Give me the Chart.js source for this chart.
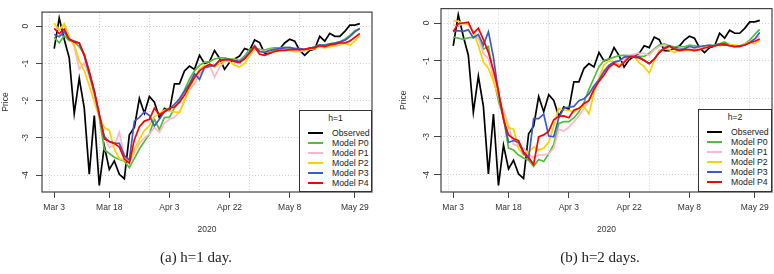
<!DOCTYPE html>
<html><head><meta charset="utf-8">
<script src="https://cdn.jsdelivr.net/npm/chart.js@4.4.1/dist/chart.umd.min.js"></script>
<style>
html,body{margin:0;padding:0;background:#fff;}
body{width:774px;height:274px;overflow:hidden;position:relative;font-family:"Liberation Sans",Arial,sans-serif;}
.panel{position:absolute;top:0;}
.cap{position:absolute;font-family:"Liberation Serif","Times New Roman",serif;font-size:15px;color:#222;white-space:nowrap;transform:translate(-50%,-50%);}
.legend{position:absolute;background:#fff;border:1px solid #333;box-sizing:border-box;font-size:8.7px;color:#222;}
.legend .t{position:absolute;left:0;right:0;text-align:center;transform:translateY(-50%);}
.legend .ln{position:absolute;height:2px;transform:translateY(-50%);}
.legend .tx{position:absolute;transform:translateY(-50%);white-space:nowrap;}
</style>
</head><body>
<div class="panel" style="left:0;width:380px;height:274px"><canvas id="c1" width="380" height="274"></canvas></div>
<div class="panel" style="left:387px;width:387px;height:274px"><canvas id="c2" width="387" height="274"></canvas></div>
<div class="legend" id="lg1" style="left:299px;top:110px;width:73px;height:82px"></div>
<div class="legend" id="lg2" style="left:698px;top:109px;width:74px;height:83px"></div>
<div class="cap" id="cap1" style="left:196px;top:257px"></div>
<div class="cap" id="cap2" style="left:600px;top:257px"></div>
<script>
// ---- data ----
const dates = ["2020-03-03","2020-03-04","2020-03-05","2020-03-06","2020-03-09","2020-03-10","2020-03-11","2020-03-12","2020-03-13","2020-03-16","2020-03-17","2020-03-18","2020-03-19","2020-03-20","2020-03-23","2020-03-24","2020-03-25","2020-03-26","2020-03-27","2020-03-30","2020-03-31","2020-04-01","2020-04-02","2020-04-03","2020-04-06","2020-04-07","2020-04-08","2020-04-09","2020-04-13","2020-04-14","2020-04-15","2020-04-16","2020-04-17","2020-04-20","2020-04-21","2020-04-22","2020-04-23","2020-04-24","2020-04-27","2020-04-28","2020-04-29","2020-04-30","2020-05-01","2020-05-04","2020-05-05","2020-05-06","2020-05-07","2020-05-08","2020-05-11","2020-05-12","2020-05-13","2020-05-14","2020-05-15","2020-05-18","2020-05-19","2020-05-20","2020-05-21","2020-05-22","2020-05-27","2020-05-28","2020-05-29","2020-06-01"];
const tickDates = ["2020-03-03","2020-03-18","2020-04-03","2020-04-22","2020-05-08","2020-05-29"];
const tickLabels = ["Mar 3","Mar 18","Apr 3","Apr 22","May 8","May 29"];
const yTicks = [-4,-3,-2,-1,0];
const seriesNames = ["Observed","Model P0","Model P1","Model P2","Model P3","Model P4"];
const seriesColors = ["#000000","#4fbf3a","#ffb6c8","#ffd000","#3a5bc8","#ff0000"];

const observed = [-0.60,0.22,-0.35,-0.85,-2.35,-1.40,-2.20,-3.98,-2.40,-4.28,-3.22,-3.85,-3.62,-3.98,-4.10,-2.92,-2.72,-1.94,-2.34,-1.89,-2.04,-2.46,-2.21,-2.28,-1.55,-1.55,-1.20,-1.07,-1.16,-0.78,-1.00,-0.95,-0.65,-0.86,-1.16,-0.97,-0.88,-0.80,-0.60,-0.65,-0.37,-0.44,-0.73,-0.73,-0.65,-0.61,-0.45,-0.35,-0.40,-0.65,-0.78,-0.65,-0.61,-0.27,-0.40,-0.19,-0.27,-0.27,-0.14,0.03,0.03,0.07];

// h = 1
const h1P0 = [-0.30,-0.45,-0.25,-0.38,-0.42,-0.55,-0.75,-1.20,-1.75,-2.45,-3.32,-3.42,-3.52,-3.58,-3.62,-3.80,-3.55,-3.30,-3.10,-2.90,-2.50,-2.78,-2.45,-2.45,-2.20,-2.00,-1.72,-1.42,-1.20,-1.05,-0.97,-0.95,-0.88,-0.85,-0.85,-0.88,-0.88,-0.92,-0.80,-0.62,-0.60,-0.62,-0.64,-0.60,-0.58,-0.58,-0.57,-0.58,-0.60,-0.60,-0.62,-0.60,-0.55,-0.52,-0.50,-0.48,-0.45,-0.42,-0.35,-0.25,-0.12,-0.06];
const h1P1 = [-0.06,-0.10,0.05,-0.30,-0.55,-1.15,-0.98,-1.35,-1.85,-2.40,-2.95,-3.25,-3.20,-2.85,-3.50,-3.65,-3.40,-3.15,-3.00,-2.90,-2.72,-2.85,-2.60,-2.50,-2.45,-2.30,-2.00,-1.70,-1.55,-1.30,-1.15,-1.05,-1.37,-1.10,-0.95,-0.90,-0.90,-0.95,-0.85,-0.70,-0.62,-0.65,-0.68,-0.63,-0.62,-0.63,-0.62,-0.62,-0.63,-0.63,-0.62,-0.60,-0.55,-0.55,-0.55,-0.50,-0.48,-0.45,-0.45,-0.40,-0.30,-0.22];
const h1P2 = [0.08,-0.10,0.07,-0.30,-0.50,-0.93,-1.19,-1.60,-2.03,-2.45,-2.72,-2.80,-3.30,-3.56,-3.60,-3.65,-3.30,-3.05,-2.80,-2.68,-2.42,-2.35,-2.25,-2.28,-2.30,-2.32,-2.00,-1.66,-1.41,-1.15,-1.05,-1.05,-1.10,-1.00,-0.92,-0.95,-1.05,-1.10,-1.00,-0.80,-0.60,-0.68,-0.70,-0.68,-0.68,-0.66,-0.65,-0.65,-0.68,-0.68,-0.66,-0.62,-0.60,-0.55,-0.58,-0.55,-0.52,-0.50,-0.45,-0.52,-0.40,-0.25];
const h1P3 = [-0.22,-0.28,-0.15,-0.35,-0.40,-0.45,-0.80,-1.28,-1.78,-2.40,-2.97,-3.10,-3.14,-3.15,-3.48,-3.60,-2.55,-2.45,-2.30,-2.40,-2.68,-2.50,-2.30,-2.22,-2.10,-1.95,-1.75,-1.55,-1.28,-1.43,-1.11,-1.08,-1.05,-0.92,-0.90,-0.90,-0.92,-0.95,-0.85,-0.70,-0.52,-0.68,-0.70,-0.65,-0.62,-0.60,-0.58,-0.57,-0.60,-0.60,-0.62,-0.60,-0.55,-0.50,-0.52,-0.47,-0.45,-0.42,-0.38,-0.28,-0.15,-0.06];
const h1P4 = [-0.06,-0.20,-0.08,-0.35,-0.43,-0.45,-0.77,-1.23,-1.73,-2.35,-3.03,-3.10,-3.15,-3.25,-3.57,-3.68,-3.05,-2.70,-2.55,-2.50,-2.20,-2.38,-2.30,-2.20,-2.17,-2.05,-1.85,-1.60,-1.38,-1.20,-1.10,-1.02,-1.07,-0.92,-0.90,-0.90,-0.95,-0.98,-0.88,-0.72,-0.55,-0.75,-0.78,-0.72,-0.68,-0.65,-0.65,-0.63,-0.63,-0.63,-0.62,-0.58,-0.58,-0.52,-0.55,-0.50,-0.48,-0.45,-0.45,-0.40,-0.30,-0.19];

// h = 2
const h2P0 = [-0.37,-0.40,-0.43,-0.39,-0.37,-0.38,-0.69,-0.62,-1.45,-2.05,-2.50,-3.30,-3.35,-3.48,-3.56,-3.62,-3.78,-3.60,-3.65,-3.45,-3.20,-2.65,-2.60,-2.60,-2.50,-2.35,-2.10,-1.75,-1.45,-1.15,-0.99,-0.95,-0.90,-0.86,-0.85,-0.86,-0.88,-0.88,-0.88,-0.80,-0.68,-0.58,-0.55,-0.60,-0.63,-0.62,-0.63,-0.58,-0.60,-0.62,-0.63,-0.62,-0.58,-0.55,-0.50,-0.58,-0.63,-0.62,-0.55,-0.45,-0.30,-0.17];
const h2P1 = [-0.05,-0.08,0.00,-0.05,-0.22,-0.40,-0.80,-0.95,-1.40,-1.95,-2.30,-2.70,-3.20,-3.25,-3.30,-3.45,-3.55,-3.48,-3.48,-3.45,-3.30,-2.80,-2.85,-2.75,-2.60,-2.45,-2.25,-2.04,-1.75,-1.45,-1.23,-1.20,-1.05,-1.00,-0.95,-0.85,-0.82,-0.80,-0.80,-0.85,-0.70,-0.62,-0.58,-0.62,-0.68,-0.68,-0.68,-0.70,-0.68,-0.66,-0.65,-0.62,-0.60,-0.58,-0.56,-0.60,-0.63,-0.63,-0.58,-0.50,-0.42,-0.35];
const h2P2 = [0.05,0.05,-0.02,-0.02,-0.25,-0.60,-1.03,-1.20,-1.54,-1.92,-2.40,-2.76,-2.80,-3.31,-3.48,-3.40,-3.27,-3.35,-3.30,-3.14,-2.72,-2.25,-2.30,-2.30,-2.35,-2.25,-2.20,-2.40,-1.85,-1.45,-1.10,-1.00,-1.02,-1.10,-1.05,-0.90,-0.88,-1.05,-1.15,-1.32,-1.00,-0.72,-0.68,-0.70,-0.78,-0.72,-0.72,-0.70,-0.75,-0.70,-0.65,-0.62,-0.60,-0.60,-0.58,-0.57,-0.58,-0.60,-0.55,-0.50,-0.55,-0.45];
const h2P3 = [-0.22,-0.20,-0.22,-0.18,-0.39,-0.30,-0.58,-0.23,-0.90,-1.85,-2.50,-3.15,-3.10,-3.15,-3.44,-3.57,-2.52,-2.52,-2.40,-2.98,-3.00,-2.50,-2.25,-2.22,-2.20,-2.05,-2.00,-1.87,-1.66,-1.50,-1.28,-1.11,-1.03,-1.00,-0.90,-0.88,-0.88,-0.90,-0.98,-1.07,-0.95,-0.78,-0.65,-0.60,-0.68,-0.70,-0.68,-0.62,-0.65,-0.62,-0.60,-0.58,-0.60,-0.55,-0.55,-0.60,-0.62,-0.60,-0.58,-0.52,-0.42,-0.25];
const h2P4 = [-0.22,-0.02,0.00,0.02,-0.27,-0.14,-0.44,-0.78,-1.24,-1.79,-2.55,-2.95,-3.05,-3.10,-3.40,-3.55,-3.73,-3.00,-2.95,-2.85,-2.55,-2.46,-2.45,-2.50,-2.30,-2.25,-2.13,-2.04,-1.75,-1.54,-1.37,-1.16,-1.07,-1.16,-1.03,-0.90,-0.90,-0.92,-0.99,-1.07,-0.95,-0.78,-0.68,-0.61,-0.69,-0.73,-0.70,-0.70,-0.72,-0.70,-0.66,-0.63,-0.60,-0.58,-0.57,-0.60,-0.62,-0.62,-0.58,-0.52,-0.48,-0.42];

const panels = [
  {id:"c1", legend:"lg1", cap:"cap1", title:"h=1", caption:"(a) h=1 day.", series:[observed,h1P0,h1P1,h1P2,h1P3,h1P4],
   yAxisW:42, padRight:8, yLabPad:7, tickLen:6, titlePad:0.6},
  {id:"c2", legend:"lg2", cap:"cap2", title:"h=2", caption:"(b) h=2 days.", series:[observed,h2P0,h2P1,h2P2,h2P3,h2P4],
   yAxisW:54, padRight:2, yLabPad:3.5, tickLen:7, titlePad:11.6}
];

// ---- rendering ----
const tickIdx = tickDates.map(d => dates.indexOf(d));
// R grid() lines fall on the default pretty ticks of the 1-based index (0,10,...,60)
const gridIdx = [0,10,20,30,40,50,60].map(v => v - 1);
const font = {family:"'Liberation Sans', Arial, sans-serif", size:8.5};
const txtCol = "#333";

const boxPlugin = {
  id:"box",
  afterDraw(chart){
    const {ctx, chartArea:a} = chart;
    ctx.save(); ctx.strokeStyle = "#444"; ctx.lineWidth = 1.2;
    ctx.strokeRect(a.left, a.top, a.right - a.left, a.bottom - a.top);
    ctx.restore();
  }
};

panels.forEach(p => {
  const datasets = p.series.map((vals, k) => ({
    label: seriesNames[k],
    data: vals.map((v, i) => ({x: i, y: v})),
    borderColor: seriesColors[k],
    borderWidth: 1.7,
    pointRadius: 0,
    tension: 0,
    fill: false,
    order: seriesNames.length - k
  }));
  new Chart(document.getElementById(p.id), {
    type: "line",
    data: {datasets},
    plugins: [boxPlugin],
    options: {
      responsive: false, animation: false, devicePixelRatio: 1,
      layout: {padding: {top: 1, right: p.padRight, left: 0, bottom: 0}},
      plugins: {legend: {display: false}, tooltip: {enabled: false}},
      scales: {
        x: {
          type: "linear", position: "bottom", min: -2.435, max: 63.43,
          afterBuildTicks: s => { s.ticks = tickIdx.map(v => ({value: v})); },
          afterFit: s => { s.height = 82; },
          ticks: {autoSkip: false, maxRotation: 0, padding: 5, font, color: txtCol,
                  callback: v => tickLabels[tickIdx.indexOf(v)]},
          grid: {drawOnChartArea: false, drawTicks: true, tickLength: 6, tickColor: "#444", tickWidth: 1},
          border: {display: false},
          title: {display: true, text: "2020", font, color: txtCol, padding: {top: 0, bottom: 39.6}}
        },
        xg: {
          type: "linear", position: "bottom", min: -2.435, max: 63.43,
          afterBuildTicks: s => { s.ticks = gridIdx.map(v => ({value: v})); },
          afterFit: s => { s.height = 0; },
          ticks: {display: false},
          grid: {drawTicks: false, color: "#d0d0d0", lineWidth: 1},
          border: {display: false, dash: [1, 2]}
        },
        y: {
          min: -4.456, max: 0.38,
          afterBuildTicks: s => { s.ticks = yTicks.map(v => ({value: v})); },
          afterFit: s => { s.width = p.yAxisW; },
          ticks: {minRotation: 90, maxRotation: 90, crossAlign: "center", padding: p.yLabPad, font, color: txtCol,
                  callback: v => String(v)},
          grid: {color: "#d0d0d0", lineWidth: 1, tickLength: p.tickLen, tickColor: "#444", tickWidth: 1, tickBorderDash: []},
          border: {display: false, dash: [1, 2]},
          title: {display: true, text: "Price", font, color: txtCol, padding: {top: p.titlePad, bottom: 0}}
        }
      }
    }
  });

  // legend (HTML overlay)
  const lg = document.getElementById(p.legend);
  const t = document.createElement("div"); t.className = "t"; t.style.top = "6.5px"; t.textContent = p.title; lg.appendChild(t);
  seriesNames.forEach((n, k) => {
    const y = 22.3 + k * 10;
    const ln = document.createElement("div"); ln.className = "ln";
    ln.style.cssText = `left:8px;width:15px;top:${y}px;background:${seriesColors[k]}`;
    const tx = document.createElement("div"); tx.className = "tx";
    tx.style.cssText = `left:32px;top:${y}px`; tx.textContent = n;
    lg.appendChild(ln); lg.appendChild(tx);
  });
  document.getElementById(p.cap).textContent = p.caption;
});
</script>
</body></html>
